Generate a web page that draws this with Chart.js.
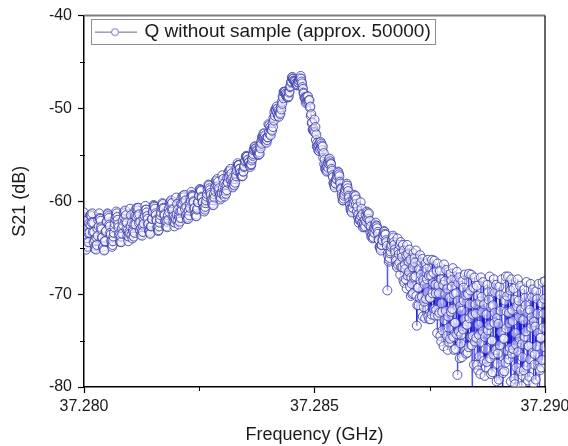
<!DOCTYPE html>
<html><head><meta charset="utf-8">
<script src="https://cdn.jsdelivr.net/npm/chart.js@4.4.1/dist/chart.umd.min.js"></script>
<style>html,body{margin:0;padding:0;background:#fff;}canvas{display:block;}</style>
</head><body>
<canvas id="c" width="568" height="446"></canvas>
<script>
// Frequency sweep (GHz)
const frequencies = [
37.28000,37.28001,37.28002,37.28003,37.28004,37.28005,37.28006,37.28007,37.28008,37.28009,37.28010,37.28011,37.28012,37.28013,37.28014,37.28015,37.28016,37.28017,37.28018,37.28019,
37.28020,37.28021,37.28022,37.28023,37.28024,37.28025,37.28026,37.28027,37.28028,37.28029,37.28030,37.28031,37.28032,37.28033,37.28034,37.28035,37.28036,37.28037,37.28038,37.28039,
37.28040,37.28041,37.28042,37.28043,37.28044,37.28045,37.28046,37.28047,37.28048,37.28049,37.28050,37.28051,37.28052,37.28053,37.28054,37.28055,37.28056,37.28057,37.28058,37.28059,
37.28060,37.28061,37.28062,37.28063,37.28064,37.28065,37.28066,37.28067,37.28068,37.28069,37.28070,37.28071,37.28072,37.28073,37.28074,37.28075,37.28076,37.28077,37.28078,37.28079,
37.28080,37.28081,37.28082,37.28083,37.28084,37.28085,37.28086,37.28087,37.28088,37.28089,37.28090,37.28091,37.28092,37.28093,37.28094,37.28095,37.28096,37.28097,37.28098,37.28099,
37.28100,37.28101,37.28102,37.28103,37.28104,37.28105,37.28106,37.28107,37.28108,37.28109,37.28110,37.28111,37.28112,37.28113,37.28114,37.28115,37.28116,37.28117,37.28118,37.28119,
37.28120,37.28121,37.28122,37.28123,37.28124,37.28125,37.28126,37.28127,37.28128,37.28129,37.28130,37.28131,37.28132,37.28133,37.28134,37.28135,37.28136,37.28137,37.28138,37.28139,
37.28140,37.28141,37.28142,37.28143,37.28144,37.28145,37.28146,37.28147,37.28148,37.28149,37.28150,37.28151,37.28152,37.28153,37.28154,37.28155,37.28156,37.28157,37.28158,37.28159,
37.28160,37.28161,37.28162,37.28163,37.28164,37.28165,37.28166,37.28167,37.28168,37.28169,37.28170,37.28171,37.28172,37.28173,37.28174,37.28175,37.28176,37.28177,37.28178,37.28179,
37.28180,37.28181,37.28182,37.28183,37.28184,37.28185,37.28186,37.28187,37.28188,37.28189,37.28190,37.28191,37.28192,37.28193,37.28194,37.28195,37.28196,37.28197,37.28198,37.28199,
37.28200,37.28201,37.28202,37.28203,37.28204,37.28205,37.28206,37.28207,37.28208,37.28209,37.28210,37.28211,37.28212,37.28213,37.28214,37.28215,37.28216,37.28217,37.28218,37.28219,
37.28220,37.28221,37.28222,37.28223,37.28224,37.28225,37.28226,37.28227,37.28228,37.28229,37.28230,37.28231,37.28232,37.28233,37.28234,37.28235,37.28236,37.28237,37.28238,37.28239,
37.28240,37.28241,37.28242,37.28243,37.28244,37.28245,37.28246,37.28247,37.28248,37.28249,37.28250,37.28251,37.28252,37.28253,37.28254,37.28255,37.28256,37.28257,37.28258,37.28259,
37.28260,37.28261,37.28262,37.28263,37.28264,37.28265,37.28266,37.28267,37.28268,37.28269,37.28270,37.28271,37.28272,37.28273,37.28274,37.28275,37.28276,37.28277,37.28278,37.28279,
37.28280,37.28281,37.28282,37.28283,37.28284,37.28285,37.28286,37.28287,37.28288,37.28289,37.28290,37.28291,37.28292,37.28293,37.28294,37.28295,37.28296,37.28297,37.28298,37.28299,
37.28300,37.28301,37.28302,37.28303,37.28304,37.28305,37.28306,37.28307,37.28308,37.28309,37.28310,37.28311,37.28312,37.28313,37.28314,37.28315,37.28316,37.28317,37.28318,37.28319,
37.28320,37.28321,37.28322,37.28323,37.28324,37.28325,37.28326,37.28327,37.28328,37.28329,37.28330,37.28331,37.28332,37.28333,37.28334,37.28335,37.28336,37.28337,37.28338,37.28339,
37.28340,37.28341,37.28342,37.28343,37.28344,37.28345,37.28346,37.28347,37.28348,37.28349,37.28350,37.28351,37.28352,37.28353,37.28354,37.28355,37.28356,37.28357,37.28358,37.28359,
37.28360,37.28361,37.28362,37.28363,37.28364,37.28365,37.28366,37.28367,37.28368,37.28369,37.28370,37.28371,37.28372,37.28373,37.28374,37.28375,37.28376,37.28377,37.28378,37.28379,
37.28380,37.28381,37.28382,37.28383,37.28384,37.28385,37.28386,37.28387,37.28388,37.28389,37.28390,37.28391,37.28392,37.28393,37.28394,37.28395,37.28396,37.28397,37.28398,37.28399,
37.28400,37.28401,37.28402,37.28403,37.28404,37.28405,37.28406,37.28407,37.28408,37.28409,37.28410,37.28411,37.28412,37.28413,37.28414,37.28415,37.28416,37.28417,37.28418,37.28419,
37.28420,37.28421,37.28422,37.28423,37.28424,37.28425,37.28426,37.28427,37.28428,37.28429,37.28430,37.28431,37.28432,37.28433,37.28434,37.28435,37.28436,37.28437,37.28438,37.28439,
37.28440,37.28441,37.28442,37.28443,37.28444,37.28445,37.28446,37.28447,37.28448,37.28449,37.28450,37.28451,37.28452,37.28453,37.28454,37.28455,37.28456,37.28457,37.28458,37.28459,
37.28460,37.28461,37.28462,37.28463,37.28464,37.28465,37.28466,37.28467,37.28468,37.28469,37.28470,37.28471,37.28472,37.28473,37.28474,37.28475,37.28476,37.28477,37.28478,37.28479,
37.28480,37.28481,37.28482,37.28483,37.28484,37.28485,37.28486,37.28487,37.28488,37.28489,37.28490,37.28491,37.28492,37.28493,37.28494,37.28495,37.28496,37.28497,37.28498,37.28499,
37.28500,37.28501,37.28502,37.28503,37.28504,37.28505,37.28506,37.28507,37.28508,37.28509,37.28510,37.28511,37.28512,37.28513,37.28514,37.28515,37.28516,37.28517,37.28518,37.28519,
37.28520,37.28521,37.28522,37.28523,37.28524,37.28525,37.28526,37.28527,37.28528,37.28529,37.28530,37.28531,37.28532,37.28533,37.28534,37.28535,37.28536,37.28537,37.28538,37.28539,
37.28540,37.28541,37.28542,37.28543,37.28544,37.28545,37.28546,37.28547,37.28548,37.28549,37.28550,37.28551,37.28552,37.28553,37.28554,37.28555,37.28556,37.28557,37.28558,37.28559,
37.28560,37.28561,37.28562,37.28563,37.28564,37.28565,37.28566,37.28567,37.28568,37.28569,37.28570,37.28571,37.28572,37.28573,37.28574,37.28575,37.28576,37.28577,37.28578,37.28579,
37.28580,37.28581,37.28582,37.28583,37.28584,37.28585,37.28586,37.28587,37.28588,37.28589,37.28590,37.28591,37.28592,37.28593,37.28594,37.28595,37.28596,37.28597,37.28598,37.28599,
37.28600,37.28601,37.28602,37.28603,37.28604,37.28605,37.28606,37.28607,37.28608,37.28609,37.28610,37.28611,37.28612,37.28613,37.28614,37.28615,37.28616,37.28617,37.28618,37.28619,
37.28620,37.28621,37.28622,37.28623,37.28624,37.28625,37.28626,37.28627,37.28628,37.28629,37.28630,37.28631,37.28632,37.28633,37.28634,37.28635,37.28636,37.28637,37.28638,37.28639,
37.28640,37.28641,37.28642,37.28643,37.28644,37.28645,37.28646,37.28647,37.28648,37.28649,37.28650,37.28651,37.28652,37.28653,37.28654,37.28655,37.28656,37.28657,37.28658,37.28659,
37.28660,37.28661,37.28662,37.28663,37.28664,37.28665,37.28666,37.28667,37.28668,37.28669,37.28670,37.28671,37.28672,37.28673,37.28674,37.28675,37.28676,37.28677,37.28678,37.28679,
37.28680,37.28681,37.28682,37.28683,37.28684,37.28685,37.28686,37.28687,37.28688,37.28689,37.28690,37.28691,37.28692,37.28693,37.28694,37.28695,37.28696,37.28697,37.28698,37.28699,
37.28700,37.28701,37.28702,37.28703,37.28704,37.28705,37.28706,37.28707,37.28708,37.28709,37.28710,37.28711,37.28712,37.28713,37.28714,37.28715,37.28716,37.28717,37.28718,37.28719,
37.28720,37.28721,37.28722,37.28723,37.28724,37.28725,37.28726,37.28727,37.28728,37.28729,37.28730,37.28731,37.28732,37.28733,37.28734,37.28735,37.28736,37.28737,37.28738,37.28739,
37.28740,37.28741,37.28742,37.28743,37.28744,37.28745,37.28746,37.28747,37.28748,37.28749,37.28750,37.28751,37.28752,37.28753,37.28754,37.28755,37.28756,37.28757,37.28758,37.28759,
37.28760,37.28761,37.28762,37.28763,37.28764,37.28765,37.28766,37.28767,37.28768,37.28769,37.28770,37.28771,37.28772,37.28773,37.28774,37.28775,37.28776,37.28777,37.28778,37.28779,
37.28780,37.28781,37.28782,37.28783,37.28784,37.28785,37.28786,37.28787,37.28788,37.28789,37.28790,37.28791,37.28792,37.28793,37.28794,37.28795,37.28796,37.28797,37.28798,37.28799,
37.28800,37.28801,37.28802,37.28803,37.28804,37.28805,37.28806,37.28807,37.28808,37.28809,37.28810,37.28811,37.28812,37.28813,37.28814,37.28815,37.28816,37.28817,37.28818,37.28819,
37.28820,37.28821,37.28822,37.28823,37.28824,37.28825,37.28826,37.28827,37.28828,37.28829,37.28830,37.28831,37.28832,37.28833,37.28834,37.28835,37.28836,37.28837,37.28838,37.28839,
37.28840,37.28841,37.28842,37.28843,37.28844,37.28845,37.28846,37.28847,37.28848,37.28849,37.28850,37.28851,37.28852,37.28853,37.28854,37.28855,37.28856,37.28857,37.28858,37.28859,
37.28860,37.28861,37.28862,37.28863,37.28864,37.28865,37.28866,37.28867,37.28868,37.28869,37.28870,37.28871,37.28872,37.28873,37.28874,37.28875,37.28876,37.28877,37.28878,37.28879,
37.28880,37.28881,37.28882,37.28883,37.28884,37.28885,37.28886,37.28887,37.28888,37.28889,37.28890,37.28891,37.28892,37.28893,37.28894,37.28895,37.28896,37.28897,37.28898,37.28899,
37.28900,37.28901,37.28902,37.28903,37.28904,37.28905,37.28906,37.28907,37.28908,37.28909,37.28910,37.28911,37.28912,37.28913,37.28914,37.28915,37.28916,37.28917,37.28918,37.28919,
37.28920,37.28921,37.28922,37.28923,37.28924,37.28925,37.28926,37.28927,37.28928,37.28929,37.28930,37.28931,37.28932,37.28933,37.28934,37.28935,37.28936,37.28937,37.28938,37.28939,
37.28940,37.28941,37.28942,37.28943,37.28944,37.28945,37.28946,37.28947,37.28948,37.28949,37.28950,37.28951,37.28952,37.28953,37.28954,37.28955,37.28956,37.28957,37.28958,37.28959,
37.28960,37.28961,37.28962,37.28963,37.28964,37.28965,37.28966,37.28967,37.28968,37.28969,37.28970,37.28971,37.28972,37.28973,37.28974,37.28975,37.28976,37.28977,37.28978,37.28979,
37.28980,37.28981,37.28982,37.28983,37.28984,37.28985,37.28986,37.28987,37.28988,37.28989,37.28990,37.28991,37.28992,37.28993,37.28994,37.28995,37.28996,37.28997,37.28998,37.28999,
37.29000];

// S21 (dB)
const s21 = [
-61.2,-63.6,-62.1,-64.6,-63.0,-65.2,-64.0,-64.4,-64.9,-63.4,-64.4,-62.4,-63.4,-61.5,-62.5,-61.4,-61.6,-62.3,-61.3,-63.3,
-62.3,-64.4,-63.3,-65.1,-64.2,-64.8,-65.2,-63.9,-64.7,-62.9,-63.7,-62.0,-62.7,-61.3,-61.8,-61.9,-62.1,-62.8,-63.0,-63.9,
-63.9,-64.9,-64.9,-65.2,-65.3,-64.3,-64.3,-63.3,-63.2,-62.2,-62.2,-61.3,-61.4,-61.6,-61.8,-62.5,-62.7,-63.4,-63.6,-64.3,
-64.3,-64.9,-64.7,-64.3,-63.8,-63.4,-62.8,-62.4,-61.9,-61.6,-61.1,-61.3,-61.7,-62.0,-62.5,-62.8,-63.5,-63.7,-64.3,-64.4,
-63.8,-64.4,-62.9,-63.5,-62.1,-62.6,-61.2,-61.7,-61.3,-61.0,-62.2,-61.5,-63.0,-62.3,-63.7,-63.1,-64.3,-63.8,-63.3,-63.5,
-60.8,-62.7,-61.5,-63.6,-62.3,-64.0,-63.1,-63.3,-63.8,-62.5,-63.4,-61.6,-62.5,-60.8,-61.7,-60.7,-61.0,-61.5,-60.7,-62.3,
-61.4,-63.1,-62.2,-63.6,-62.9,-63.3,-63.7,-62.6,-63.3,-61.8,-62.4,-61.1,-61.6,-60.5,-60.9,-60.9,-61.2,-61.6,-61.9,-62.5,
-62.4,-63.2,-63.2,-63.4,-63.5,-62.7,-62.7,-61.9,-61.9,-61.1,-61.2,-60.4,-60.5,-60.6,-60.8,-61.3,-61.5,-62.0,-62.1,-62.8,
-62.8,-63.2,-63.1,-62.7,-62.3,-61.9,-61.5,-61.2,-60.7,-60.5,-60.2,-60.3,-60.7,-60.8,-61.4,-61.5,-62.1,-62.2,-62.7,-62.7,
-62.2,-62.8,-61.5,-62.0,-60.8,-61.2,-60.1,-60.5,-60.2,-59.9,-60.9,-60.2,-61.6,-60.9,-62.2,-61.6,-62.7,-62.3,-61.8,-62.0,
-59.6,-61.4,-60.3,-62.1,-60.9,-62.5,-61.6,-61.8,-62.2,-61.1,-61.8,-60.3,-61.0,-59.5,-60.3,-59.4,-59.6,-60.0,-59.3,-60.8,
-59.9,-61.5,-60.6,-61.9,-61.3,-61.7,-61.9,-61.0,-61.5,-60.2,-60.7,-59.6,-60.0,-59.0,-59.3,-59.4,-59.5,-60.0,-60.1,-60.8,
-60.7,-61.4,-61.4,-61.6,-61.6,-60.9,-60.8,-60.1,-60.1,-59.4,-59.4,-58.7,-58.7,-58.8,-58.9,-59.5,-59.6,-60.1,-60.1,-60.7,
-60.7,-61.1,-60.9,-60.6,-60.2,-59.9,-59.5,-59.2,-58.7,-58.5,-58.2,-58.3,-58.6,-58.8,-59.1,-59.3,-59.8,-59.9,-60.2,-60.4,
-59.9,-60.4,-59.2,-59.6,-58.5,-58.9,-57.8,-58.3,-57.8,-57.6,-58.4,-57.9,-58.9,-58.6,-59.4,-59.2,-59.8,-59.6,-59.1,-59.2,
-57.2,-58.6,-57.6,-59.2,-58.1,-59.5,-58.7,-58.9,-59.2,-58.2,-58.8,-57.5,-58.0,-56.9,-57.4,-56.7,-56.8,-57.2,-56.5,-57.7,
-57.0,-58.2,-57.5,-58.5,-57.9,-58.2,-58.3,-57.6,-58.0,-57.0,-57.3,-56.4,-56.7,-55.9,-56.1,-56.1,-56.1,-56.5,-56.5,-57.0,
-56.9,-57.3,-57.2,-57.3,-57.3,-56.8,-56.8,-56.3,-56.2,-55.7,-55.6,-55.2,-55.1,-55.2,-55.2,-55.6,-55.5,-55.8,-55.8,-56.1,
-56.1,-56.3,-56.1,-56.0,-55.6,-55.4,-55.1,-54.9,-54.5,-54.4,-54.1,-54.1,-54.3,-54.3,-54.5,-54.6,-54.8,-54.9,-55.0,-55.0,
-54.7,-54.9,-54.1,-54.3,-53.6,-53.8,-53.1,-53.3,-53.0,-52.7,-53.2,-52.7,-53.4,-52.9,-53.6,-53.2,-53.7,-53.4,-53.1,-53.1,
-51.7,-52.6,-51.8,-52.8,-52.0,-52.9,-52.2,-52.3,-52.4,-51.6,-52.0,-51.0,-51.3,-50.4,-50.8,-50.1,-50.1,-50.3,-49.8,-50.5,
-50.0,-50.8,-50.2,-50.9,-50.4,-50.5,-50.6,-49.9,-50.1,-49.3,-49.5,-48.7,-48.9,-48.2,-48.3,-48.2,-48.2,-48.4,-48.4,-48.7,
-48.5,-48.8,-48.8,-48.8,-48.7,-48.3,-48.2,-47.7,-47.6,-47.2,-47.1,-46.7,-46.6,-46.8,-46.8,-47.0,-47.0,-47.1,-47.1,-47.3,
-47.3,-47.5,-47.5,-47.4,-47.2,-47.2,-47.0,-47.0,-46.8,-46.7,-46.5,-46.8,-47.1,-47.3,-47.7,-47.9,-48.3,-48.4,-48.8,-48.9,
-48.9,-49.4,-48.8,-49.3,-48.7,-49.2,-48.7,-49.2,-49.1,-49.1,-49.9,-49.8,-50.8,-50.6,-51.6,-51.5,-52.3,-52.3,-52.2,-52.5,
-51.2,-52.6,-52.0,-53.4,-52.8,-54.1,-53.7,-54.1,-54.5,-53.9,-54.6,-53.7,-54.4,-53.6,-54.2,-53.8,-54.0,-54.5,-54.1,-55.3,
-54.8,-56.0,-55.5,-56.5,-56.1,-56.5,-56.8,-56.2,-56.7,-55.9,-56.4,-55.5,-56.0,-55.4,-55.7,-55.9,-56.0,-56.5,-56.7,-57.2,
-57.4,-58.0,-58.1,-58.3,-58.5,-58.0,-58.1,-57.6,-57.6,-57.1,-57.3,-56.8,-56.9,-57.1,-57.3,-57.9,-58.1,-58.6,-58.7,-59.2,
-59.5,-59.9,-59.9,-59.7,-59.4,-59.2,-58.9,-58.7,-58.4,-58.3,-58.1,-58.3,-58.6,-58.9,-59.4,-59.6,-60.1,-60.4,-60.8,-61.0,
-60.7,-61.2,-60.2,-60.7,-59.8,-60.2,-59.3,-59.8,-59.5,-59.4,-60.3,-59.8,-61.1,-60.6,-61.7,-61.4,-62.3,-62.0,-61.8,-62.0,
-60.1,-61.6,-60.8,-62.3,-61.4,-62.8,-62.2,-62.5,-62.8,-62.0,-62.7,-61.5,-62.2,-61.1,-61.8,-61.2,-61.4,-61.9,-61.3,-62.6,
-62.1,-63.3,-62.7,-63.8,-63.4,-63.7,-64.0,-63.3,-63.9,-62.9,-63.4,-62.5,-63.0,-62.3,-62.6,-62.7,-62.9,-63.3,-63.5,-64.1,
-64.2,-64.9,-64.9,-65.1,-65.3,-64.7,-64.7,-64.2,-64.2,-63.6,-63.7,-63.2,-63.3,-63.5,-63.6,-64.2,-64.4,-64.8,-69.6,-65.6,
-65.9,-66.5,-66.3,-66.1,-65.6,-65.4,-64.9,-64.7,-64.2,-64.1,-63.7,-63.9,-64.4,-64.7,-65.2,-65.5,-66.2,-66.4,-66.9,-67.1,
-64.0,-66.8,-65.3,-65.7,-66.6,-64.7,-67.9,-64.4,-67.1,-65.6,-66.0,-67.1,-64.7,-68.5,-65.3,-68.8,-66.8,-67.3,-68.4,-65.8,
-69.4,-64.7,-68.0,-65.7,-66.5,-67.6,-65.2,-69.2,-66.3,-70.2,-68.2,-68.9,-70.0,-67.1,-69.9,-65.6,-68.2,-66.1,-66.6,-68.1,
-65.3,-70.2,-73.4,-71.2,-69.3,-69.3,-71.2,-67.3,-70.4,-65.8,-68.5,-67.9,-66.6,-70.3,-66.2,-72.4,-68.5,-71.4,-70.8,-69.0,
-72.6,-66.7,-70.5,-67.3,-68.4,-69.8,-66.3,-72.4,-68.0,-72.7,-70.4,-70.4,-72.7,-68.0,-72.2,-66.3,-69.9,-68.8,-67.7,-71.6,
-66.4,-72.3,-69.0,-69.9,-71.7,-67.5,-74.2,-66.7,-72.3,-69.1,-69.9,-72.0,-67.5,-74.5,-68.4,-75.1,-71.0,-71.9,-73.9,-69.0,
-75.6,-66.8,-72.8,-68.6,-70.0,-71.8,-67.4,-74.5,-69.4,-76.0,-72.4,-73.6,-75.2,-70.4,-74.8,-67.8,-71.9,-68.5,-69.2,-71.6,
-67.2,-74.6,-70.0,-76.0,-73.1,-73.1,-75.9,-69.9,-74.3,-67.6,-78.7,-70.7,-68.8,-74.0,-68.2,-76.9,-71.3,-75.3,-74.4,-71.8,
-76.8,-68.6,-73.8,-69.3,-70.7,-72.7,-67.9,-76.1,-70.1,-76.4,-73.3,-73.3,-76.3,-70.0,-75.7,-67.8,-72.6,-71.1,-69.6,-74.6,
-67.9,-75.5,-81.5,-72.2,-74.5,-69.3,-77.6,-68.2,-75.1,-71.1,-72.1,-74.7,-69.1,-77.6,-70.2,-78.2,-73.3,-74.4,-76.7,-70.8,
-78.6,-68.2,-75.2,-70.3,-71.9,-74.0,-68.7,-77.2,-71.1,-78.8,-74.6,-75.9,-77.9,-72.2,-77.3,-69.0,-73.9,-69.8,-70.6,-73.3,
-68.1,-76.9,-71.4,-78.6,-75.0,-75.0,-78.4,-71.2,-76.5,-68.4,-73.1,-72.0,-69.8,-76.0,-69.0,-79.4,-72.6,-77.5,-76.4,-73.2,
-79.2,-69.2,-75.5,-70.1,-71.8,-74.1,-68.4,-78.2,-82.0,-78.5,-74.8,-74.8,-78.3,-70.7,-77.4,-68.1,-73.7,-71.9,-70.2,-76.1,
-68.1,-77.0,-72.0,-73.1,-75.8,-69.6,-79.4,-68.4,-76.4,-71.7,-72.9,-75.9,-69.4,-79.1,-70.6,-79.7,-74.2,-75.4,-77.9,-71.3,
-81.0,-68.4,-76.2,-70.7,-72.5,-74.8,-69.1,-78.3,-71.7,-79.9,-75.4,-76.8,-78.8,-72.8,-78.2,-69.5,-74.6,-70.4,-71.2,-74.0,
-68.7,-77.7,-72.0,-79.3,-75.6,-75.6,-78.9,-71.7,-77.0,-68.9,-73.6,-72.5,-70.3,-76.3,-69.5,-79.6,-73.0,-77.6,-76.5,-73.5,
-79.2,-69.7,-75.6,-70.5,-72.1,-74.2,-68.9,-78.0,-81.5,-78.2,-74.7,-74.7,-77.9,-71.0,-77.1,-68.7,-73.6,-72.1,-70.5,-75.7,
-68.6];

const xTickValues = [37.280, 37.285, 37.290];
const xTickLabels = ['37.280', '37.285', '37.290'];
const yTickValues = [-80, -70, -60, -50, -40];
const yTickLabels = ['-80', '-70', '-60', '-50', '-40'];
const seriesLabel = 'Q without sample (approx. 50000)';
const xTitle = 'Frequency (GHz)';
const yTitle = 'S21 (dB)';

const FAMILY = "'Liberation Sans', Arial, Helvetica, sans-serif";
const TXT = '#1a1a1a';

// legend icon: line with open circle
const icon = document.createElement('canvas');
icon.width = 44; icon.height = 12;
(function () {
  const g = icon.getContext('2d');
  g.strokeStyle = 'rgb(105,105,135)'; g.lineWidth = 1;
  g.beginPath(); g.moveTo(0, 6.5); g.lineTo(44, 6.5); g.stroke();
  g.beginPath(); g.arc(22, 6.5, 3.5, 0, Math.PI * 2);
  g.fillStyle = '#fff'; g.fill();
  g.strokeStyle = 'rgb(115,115,195)'; g.stroke();
})();

const decor = {
  id: 'decor',
  afterLayout(chart) {
    const lg = chart.legend, ca = chart.chartArea;
    if (lg) { lg.left = ca.left + 11; lg.top = ca.top + 6.5; }
  },
  afterDraw(chart) {
    const { ctx, chartArea: ca, scales } = chart;
    const xs = scales.x, ys = scales.y;
    ctx.save();
    ctx.strokeStyle = '#7c7c7c'; ctx.lineWidth = 2;
    ctx.beginPath(); ctx.moveTo(ca.left, ca.top); ctx.lineTo(ca.right, ca.top); ctx.stroke();
    ctx.strokeStyle = '#000'; ctx.lineWidth = 1.2;
    ctx.beginPath(); ctx.moveTo(ca.right, ca.top); ctx.lineTo(ca.right, ca.bottom + 0.5); ctx.stroke();
    ctx.strokeStyle = '#000'; ctx.lineWidth = 1;
    for (let i = 0; i < xTickValues.length - 1; i++) {
      const px = Math.round(xs.getPixelForValue((xTickValues[i] + xTickValues[i + 1]) / 2)) + 0.5;
      ctx.beginPath(); ctx.moveTo(px, ca.bottom - 1); ctx.lineTo(px, ca.bottom + 4); ctx.stroke();
    }
    for (let i = 0; i < yTickValues.length - 1; i++) {
      const py = Math.round(ys.getPixelForValue((yTickValues[i] + yTickValues[i + 1]) / 2)) + 0.5;
      ctx.beginPath(); ctx.moveTo(ca.left + 1, py); ctx.lineTo(ca.left - 4, py); ctx.stroke();
    }
    const lg = chart.legend;
    if (lg) {
      ctx.font = '19px ' + FAMILY;
      const tw = ctx.measureText(seriesLabel).width;
      const textStart = lg.left + 40 + 9.5;
      const bx = Math.round(lg.left - 4) + 0.5;
      const by = Math.round(lg.top - 3.5) + 0.5;
      const bw = Math.round(textStart + tw + 5 - bx);
      ctx.strokeStyle = '#8e8e8e'; ctx.lineWidth = 1;
      ctx.strokeRect(bx, by, bw, 25);
    }
    ctx.restore();
  }
};

new Chart(document.getElementById('c'), {
  type: 'line',
  data: {
    datasets: [{
      label: seriesLabel,
      data: frequencies.map((f, i) => ({ x: f, y: s21[i] })),
      borderColor: 'rgba(15,15,225,0.8)',
      borderWidth: 0.8,
      pointRadius: 4.5,
      pointHoverRadius: 4.5,
      pointBorderWidth: 1,
      pointBorderColor: 'rgba(60,60,175,0.85)',
      pointBackgroundColor: 'rgba(255,255,255,0.5)',
      tension: 0,
      fill: false
    }]
  },
  options: {
    responsive: false,
    animation: false,
    devicePixelRatio: 1,
    events: [],
    layout: { padding: { left: 0, right: 23, top: 15, bottom: 0 } },
    plugins: {
      legend: {
        position: 'chartArea',
        align: 'start',
        labels: {
          usePointStyle: true,
          pointStyleWidth: 40,
          padding: 0,
          color: TXT,
          font: { size: 19, family: FAMILY },
          generateLabels(chart) {
            const items = Chart.defaults.plugins.legend.labels.generateLabels(chart);
            items.forEach(it => { it.pointStyle = icon; });
            return items;
          }
        }
      },
      tooltip: { enabled: false }
    },
    scales: {
      x: {
        type: 'linear',
        min: 37.28, max: 37.29,
        afterBuildTicks(s) { s.ticks = xTickValues.map(v => ({ value: v })); },
        afterFit(s) { s.height = 59; s.paddingLeft = 0; s.paddingRight = 0; },
        grid: { display: true, drawOnChartArea: false, drawTicks: true, tickLength: 6, tickColor: '#000', tickWidth: 1.2 },
        border: { display: true, color: '#000', width: 1.5 },
        ticks: {
          padding: 4, maxRotation: 0, autoSkip: false, color: TXT,
          font: { size: 16, family: FAMILY },
          callback: (v, i) => xTickLabels[i]
        },
        title: { display: true, text: xTitle, color: TXT, font: { size: 18, family: FAMILY }, padding: { top: 0, bottom: 0 } }
      },
      y: {
        type: 'linear',
        min: -80, max: -40,
        afterBuildTicks(s) { s.ticks = yTickValues.map(v => ({ value: v })); },
        afterFit(s) { s.width = 84; },
        grid: { display: true, drawOnChartArea: false, drawTicks: true, tickLength: 6, tickColor: '#000', tickWidth: 1.2 },
        border: { display: true, color: '#000', width: 1.5 },
        ticks: {
          padding: 6, color: TXT,
          font: { size: 16, family: FAMILY },
          callback: (v, i) => yTickLabels[i]
        },
        title: { display: true, text: yTitle, color: TXT, font: { size: 18, family: FAMILY }, padding: { top: 9, bottom: 0 } }
      }
    }
  },
  plugins: [decor]
});
</script>
</body></html>
